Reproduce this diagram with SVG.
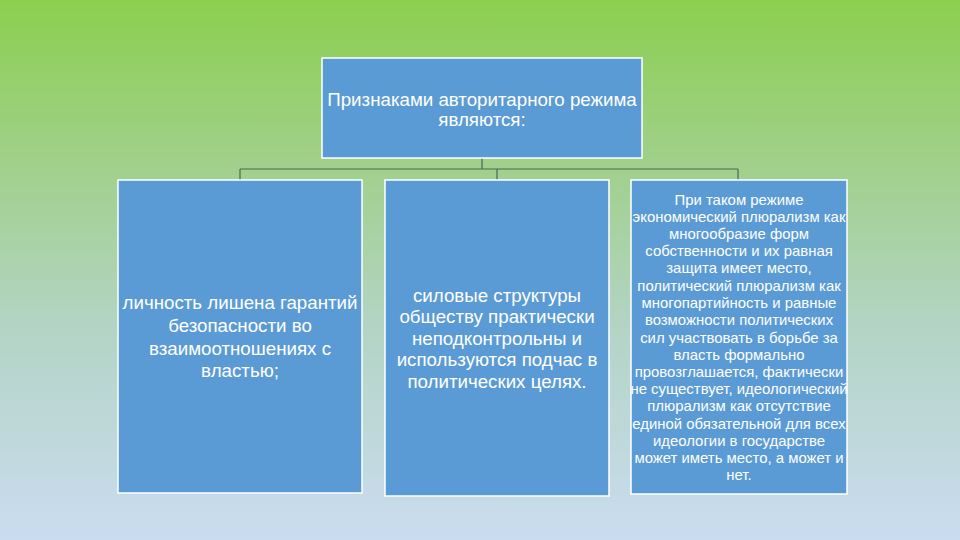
<svg xmlns="http://www.w3.org/2000/svg" width="960" height="540" viewBox="0 0 960 540">
<defs>
<linearGradient id="bg" x1="0" y1="0" x2="0" y2="1">
<stop offset="0" stop-color="#8ccf4f"/>
<stop offset="0.3" stop-color="#a0d08a"/>
<stop offset="0.6" stop-color="#b3d4c4"/>
<stop offset="1" stop-color="#cadcf0"/>
</linearGradient>
<style>
.box{fill:#5b9bd5;stroke:#ffffff;stroke-width:1.5}
.t{fill:#ffffff;font-family:"Liberation Sans",Arial,sans-serif;text-anchor:middle}
.big{font-size:17.5px}
.sm{font-size:14.2px}
.conn{fill:none;stroke:#4a6658;stroke-width:1.2}
</style>
</defs>
<rect x="0" y="0" width="960" height="540" fill="url(#bg)"/>
<g id="connectors">
<path class="conn" d="M482,158 V169 M240,169 H738 M240,169 V180 M497,169 V180 M738,169 V180"/>
</g>
<g id="top">
<rect class="box" x="322" y="58" width="320" height="100"/>
<g transform="translate(482,0) scale(1.07,1)">
<text class="t big" x="0" y="106">Признаками авторитарного режима</text>
<text class="t big" x="0" y="126">являются:</text>
</g>
</g>
<g id="left">
<rect class="box" x="118" y="180" width="244" height="313"/>
<g transform="translate(240,0) scale(1.07,1)">
<text class="t big" x="0" y="309">личность лишена гарантий</text>
<text class="t big" x="0" y="332">безопасности во</text>
<text class="t big" x="0" y="355">взаимоотношениях с</text>
<text class="t big" x="0" y="377">властью;</text>
</g>
</g>
<g id="middle">
<rect class="box" x="385" y="180" width="224" height="316"/>
<g transform="translate(497,0) scale(1.07,1)">
<text class="t big" x="0" y="302">силовые структуры</text>
<text class="t big" x="0" y="323">обществу практически</text>
<text class="t big" x="0" y="345">неподконтрольны и</text>
<text class="t big" x="0" y="366">используются подчас в</text>
<text class="t big" x="0" y="388">политических целях.</text>
</g>
</g>
<g id="right">
<rect class="box" x="631" y="180" width="216" height="314"/>
<g transform="translate(739,0) scale(1.05,1)">
<text class="t sm" x="0" y="205">При таком режиме</text>
<text class="t sm" x="0" y="222">экономический плюрализм как</text>
<text class="t sm" x="0" y="239">многообразие форм</text>
<text class="t sm" x="0" y="256">собственности и их равная</text>
<text class="t sm" x="0" y="273">защита имеет место,</text>
<text class="t sm" x="0" y="291">политический плюрализм как</text>
<text class="t sm" x="0" y="308">многопартийность и равные</text>
<text class="t sm" x="0" y="325">возможности политических</text>
<text class="t sm" x="0" y="343">сил участвовать в борьбе за</text>
<text class="t sm" x="0" y="360">власть формально</text>
<text class="t sm" x="0" y="377">провозглашается, фактически</text>
<text class="t sm" x="0" y="394">не существует, идеологический</text>
<text class="t sm" x="0" y="411">плюрализм как отсутствие</text>
<text class="t sm" x="0" y="429">единой обязательной для всех</text>
<text class="t sm" x="0" y="446">идеологии в государстве</text>
<text class="t sm" x="0" y="463">может иметь место, а может и</text>
<text class="t sm" x="0" y="480">нет.</text>
</g>
</g>
</svg>
